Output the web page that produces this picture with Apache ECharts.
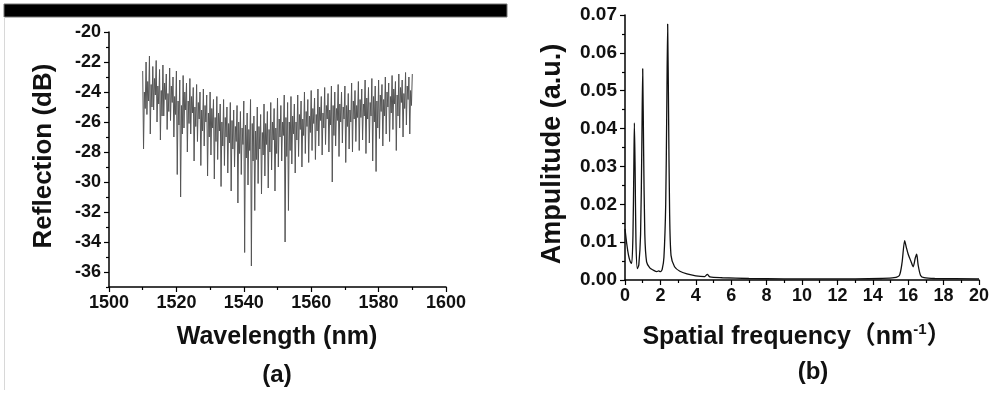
<!DOCTYPE html>
<html>
<head>
<meta charset="utf-8">
<script src="https://cdn.jsdelivr.net/npm/echarts@6/dist/echarts.min.js"></script>
<style>
html,body{margin:0;padding:0;background:#fff;}
#chart{width:1000px;height:395px;}
</style>
</head>
<body>
<div id="chart"></div>
<script>
// ---- Panel (a): reflection spectrum ----
const reflStart = 1510;   // nm, first sample
const reflStep = 0.25;    // nm between samples
const reflValues = [
  -22.6, -27.8, -24.0, -25.1,   -22.0, -25.5, -23.3, -24.6,   -21.6, -26.8, -23.5, -25.0,
  -22.3, -25.2, -23.1, -24.2,   -21.9, -26.0, -23.6, -24.8,   -22.5, -27.2, -23.9, -25.6,
  -22.2, -25.6, -23.4, -24.5,   -22.8, -26.5, -24.1, -25.3,   -22.4, -25.9, -23.6, -24.7,
  -23.0, -27.0, -24.3, -25.5,   -22.6, -29.5, -24.6, -26.2,   -23.2, -31.0, -24.9, -26.8,
  -22.9, -26.4, -24.0, -25.2,   -23.4, -28.0, -24.6, -26.1,   -23.1, -26.8, -24.3, -25.4,
  -23.7, -28.6, -25.0, -26.3,   -23.5, -27.3, -24.7, -25.8,   -24.0, -28.9, -25.2, -26.6,
  -23.8, -27.6, -24.9, -26.0,   -24.2, -29.6, -25.4, -27.0,   -24.0, -28.2, -25.1, -26.4,
  -24.5, -29.8, -25.7, -27.3,   -24.3, -28.5, -25.4, -26.6,   -24.8, -30.3, -26.0, -27.6,
  -24.5, -28.9, -25.7, -27.0,   -25.0, -29.4, -26.1, -27.4,   -24.7, -30.6, -25.9, -27.8,
  -25.2, -29.0, -26.3, -27.3,   -24.9, -31.4, -26.0, -28.1,   -25.3, -29.5, -26.4, -27.5,
  -24.6, -34.7, -26.2, -28.4,   -25.4, -30.2, -26.5, -27.9,   -24.5, -35.6, -26.1, -28.6,
  -25.6, -31.9, -26.6, -28.5,   -25.0, -30.1, -26.3, -27.8,   -25.5, -30.8, -26.7, -28.2,
  -24.8, -29.6, -26.1, -27.5,   -25.3, -30.4, -26.5, -28.0,   -24.7, -29.2, -26.0, -27.2,
  -25.1, -30.6, -26.4, -28.1,   -24.4, -29.0, -25.8, -27.0,   -24.9, -28.6, -26.0, -26.9,
  -24.2, -34.0, -25.7, -28.3,   -24.7, -31.9, -26.0, -27.9,   -24.3, -28.8, -25.6, -26.8,
  -24.8, -29.4, -26.0, -27.2,   -24.2, -28.3, -25.5, -26.5,   -24.6, -29.0, -25.8, -26.9,
  -24.0, -28.1, -25.3, -26.3,   -24.5, -28.7, -25.6, -26.7,   -23.9, -27.9, -25.1, -26.1,
  -24.4, -28.5, -25.5, -26.6,   -23.8, -27.6, -25.0, -25.9,   -24.3, -28.2, -25.4, -26.4,
  -23.7, -27.5, -24.9, -25.8,   -24.1, -28.0, -25.2, -26.2,   -23.6, -30.0, -24.9, -26.9,
  -24.0, -27.6, -25.1, -25.9,   -23.5, -28.3, -24.8, -26.0,   -24.0, -27.4, -25.0, -25.8,
  -23.6, -28.7, -24.9, -26.3,   -24.1, -27.8, -25.2, -26.0,   -23.4, -28.0, -24.6, -25.8,
  -23.9, -27.3, -24.9, -25.7,   -23.3, -27.9, -24.5, -25.7,   -23.8, -27.2, -24.8, -25.6,
  -23.2, -28.1, -24.4, -25.8,   -23.7, -27.4, -24.7, -25.6,   -23.1, -28.6, -24.3, -26.0,
  -23.6, -29.3, -24.6, -26.4,   -23.2, -27.1, -24.2, -25.3,   -23.5, -27.6, -24.5, -25.6,
  -23.0, -26.8, -24.0, -25.0,   -23.4, -27.3, -24.3, -25.4,   -22.9, -26.5, -23.8, -24.8,
  -23.3, -27.9, -24.2, -25.6,   -22.8, -26.4, -23.7, -24.7,   -23.2, -27.0, -24.1, -25.1,
  -22.7, -26.2, -23.6, -24.5,   -23.0, -26.8, -23.9, -24.9,
  -22.8
];
const reflYLabels = [-36, -34, -32, -30, -28, -26, -24, -22, -20];
const reflYMinor = [-37, -35, -33, -31, -29, -27, -25, -23, -21];

// ---- Panel (b): spatial frequency spectrum ----
const specFreq = [
  0, 0.1, 0.2, 0.3, 0.38, 0.45, 0.5, 0.53, 0.57, 0.62,
  0.7, 0.78, 0.88, 0.95, 1.0, 1.05, 1.12, 1.22, 1.4, 1.6,
  1.8, 1.9, 2.0, 2.1, 2.2, 2.3, 2.36, 2.41, 2.46, 2.52,
  2.6, 2.8, 3.1, 3.5, 4.0, 4.5, 4.65, 4.8, 5.5, 7,
  9, 11, 13, 14.5, 15.2, 15.5, 15.65, 15.8, 15.9, 16.0,
  16.15, 16.28, 16.4, 16.48, 16.56, 16.7, 16.9, 17.5, 20
];
const specAmp = [
  0.0135, 0.0095, 0.0065, 0.0048, 0.0044, 0.012, 0.030, 0.0415, 0.030, 0.010,
  0.0030, 0.0040, 0.012, 0.035, 0.0558, 0.035, 0.012, 0.0048, 0.0032, 0.0026,
  0.0022, 0.0024, 0.0022, 0.0028, 0.0060, 0.020, 0.045, 0.0676, 0.045, 0.018,
  0.0065, 0.0035, 0.0023, 0.0016, 0.0011, 0.0009, 0.0015, 0.0008, 0.0006, 0.0004,
  0.0003, 0.0003, 0.0003, 0.0004, 0.0006, 0.0012, 0.0045, 0.0104, 0.0085, 0.0068,
  0.0050, 0.0035, 0.0058, 0.0068, 0.0040, 0.0012, 0.0006, 0.0004, 0.0003
];

const reflData = reflValues.map((v, i) => [reflStart + i * reflStep, v]);
const specData = specFreq.map((f, i) => [f, specAmp[i]]);

const FONT = '"Liberation Sans", Arial, "Noto Sans CJK SC", sans-serif';
const axisLine = { show: true, onZero: false, lineStyle: { color: '#000', width: 1.5 } };
const lbl = (size, extra) => Object.assign({ color: '#111', fontFamily: FONT, fontWeight: 'bold', fontSize: size, margin: 8 }, extra || {});
const tickStyle = { color: '#000', width: 1.2 };

const chart = echarts.init(document.getElementById('chart'), null, { renderer: 'canvas' });
chart.setOption({
  animation: false,
  backgroundColor: '#fff',
  grid: [
    { left: 109, top: 32, width: 337, height: 255, containLabel: false },
    { left: 625, top: 15, width: 354, height: 265, containLabel: false }
  ],
  xAxis: [
    {
      gridIndex: 0, type: 'value', min: 1500, max: 1600, interval: 20,
      axisLine: axisLine,
      axisTick: { show: true, inside: false, length: 5, lineStyle: tickStyle },
      minorTick: { show: true, splitNumber: 2, length: 3, lineStyle: tickStyle },
      axisLabel: lbl(18, { margin: 7, formatter: v => String(v) }),
      splitLine: { show: false }
    },
    {
      gridIndex: 1, type: 'value', min: 0, max: 20, interval: 2,
      axisLine: axisLine,
      axisTick: { show: true, inside: false, length: 5, lineStyle: tickStyle },
      minorTick: { show: true, splitNumber: 2, length: 3, lineStyle: tickStyle },
      axisLabel: lbl(18, { margin: 7, formatter: v => String(v) }),
      splitLine: { show: false }
    }
  ],
  yAxis: [
    {
      gridIndex: 0, type: 'value', min: -37, max: -20, interval: 1,
      axisLine: axisLine,
      axisTick: { show: true, inside: false, length: 5, customValues: reflYLabels, lineStyle: tickStyle },
      axisLabel: lbl(18, { customValues: reflYLabels, margin: 8 }),
      splitLine: { show: false }
    },
    {
      gridIndex: 0, type: 'value', min: -37, max: -20, interval: 1, position: 'left',
      axisLine: { show: false },
      axisTick: { show: true, inside: false, length: 3, customValues: reflYMinor, lineStyle: tickStyle },
      axisLabel: { show: false },
      splitLine: { show: false }
    },
    {
      gridIndex: 1, type: 'value', min: 0, max: 0.07, interval: 0.01,
      axisLine: axisLine,
      axisTick: { show: true, inside: false, length: 5, lineStyle: tickStyle },
      minorTick: { show: true, splitNumber: 2, length: 3, lineStyle: tickStyle },
      axisLabel: lbl(19, { margin: 8, formatter: v => v.toFixed(2) }),
      splitLine: { show: false }
    }
  ],
  series: [
    {
      type: 'line', xAxisIndex: 0, yAxisIndex: 0, data: reflData,
      showSymbol: false, symbol: 'none',
      lineStyle: { color: '#555', width: 1 }
    },
    {
      type: 'line', xAxisIndex: 1, yAxisIndex: 2, data: specData,
      showSymbol: false, symbol: 'none', smooth: 0.25,
      lineStyle: { color: '#111', width: 1.3 }
    }
  ],
  graphic: [
    { type: 'rect', shape: { x: 4, y: 4, width: 503, height: 13 }, style: { fill: '#000', stroke: '#777', lineWidth: 1 } },
    { type: 'line', shape: { x1: 4.5, y1: 17, x2: 4.5, y2: 390 }, style: { stroke: '#d8d8d8', lineWidth: 1 } },
    { type: 'text', x: 44, y: 156, rotation: Math.PI / 2,
      style: { text: 'Reflection (dB)', fill: '#111', font: 'bold 26px ' + FONT, align: 'center', verticalAlign: 'middle' } },
    { type: 'text', x: 277, y: 337,
      style: { text: 'Wavelength (nm)', fill: '#111', font: 'bold 25px ' + FONT, align: 'center', verticalAlign: 'middle' } },
    { type: 'text', x: 277, y: 375,
      style: { text: '(a)', fill: '#111', font: 'bold 24px ' + FONT, align: 'center', verticalAlign: 'middle' } },
    { type: 'text', x: 553, y: 154, rotation: Math.PI / 2,
      style: { text: 'Ampulitude (a.u.)', fill: '#111', font: 'bold 27px ' + FONT, align: 'center', verticalAlign: 'middle' } },
    { type: 'text', x: 797, y: 337,
      style: {
        text: '{t|Spatial frequency}{p|（nm}{s|-1}{p|）}',
        align: 'center', verticalAlign: 'middle',
        rich: {
          t: { fill: '#111', fontFamily: FONT, fontWeight: 'bold', fontSize: 25 },
          p: { fill: '#111', fontFamily: FONT, fontWeight: 'bold', fontSize: 25 },
          s: { fill: '#111', fontFamily: FONT, fontWeight: 'bold', fontSize: 15, verticalAlign: 'top', padding: [0, 0, 14, 0] }
        }
      } },
    { type: 'text', x: 813, y: 372,
      style: { text: '(b)', fill: '#111', font: 'bold 24px ' + FONT, align: 'center', verticalAlign: 'middle' } }
  ]
});
</script>
</body>
</html>
